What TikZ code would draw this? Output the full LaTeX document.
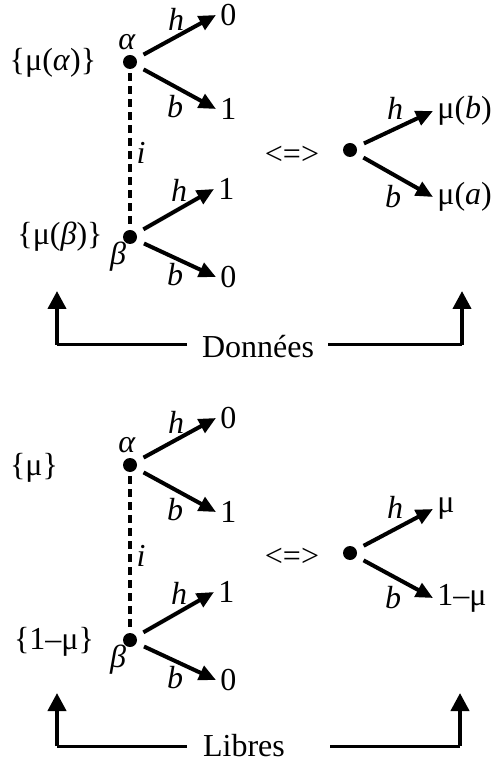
\documentclass[tikz,border=0pt]{standalone}
\usepackage{fontspec}
\setmainfont{Liberation Serif}
\usetikzlibrary{arrows.meta}
\tikzset{
  dot/.style={circle, fill, inner sep=0pt, minimum size=7pt},
  branch/.style={line width=2pt, shorten <=4pt, -{Triangle[length=8.5pt,width=7.5pt]}},
  tiplbl/.style={anchor=west, inner sep=2pt},
  lbl/.style={inner sep=1pt},
  dashline/.style={line width=2pt, dash pattern=on 4pt off 2.5pt, shorten <=2pt, shorten >=2pt},
  hline/.style={line width=1.5pt},
  uparr/.style={line width=2pt, -{Triangle[length=9pt,width=9pt]}},
}
\begin{document}
\begin{tikzpicture}[x=0.5pt, y=-0.5pt, every node/.style={font=\fontsize{16}{19}\selectfont}]
  \useasboundingbox (0,0) rectangle (500,763);
  % donnees
  \node[dot] (alphaA) at (130,62) {};
  \node[dot] (betaA) at (130,237) {};
  \node[lbl] (alphaAl) at (127,42) {\textit{α}};
  \node[lbl] (betaAl) at (118,257) {\textit{β}};
  \node[lbl] (probAa) at (53,63) {\{μ(\textit{α})\}};
  \node[lbl] (probAb) at (60,237) {\{μ(\textit{β})\}};
  \draw[dashline] (alphaA) -- (betaA);
  \node[lbl] (infA) at (141,153) {\textit{i}};
  \node[tiplbl] (ahA) at (216,15) {0};
  \node[tiplbl] (abA) at (216,109) {1};
  \node[tiplbl] (bhA) at (214,189) {1};
  \node[tiplbl] (bbA) at (216,277) {0};
  \draw[branch] (alphaA) -- (ahA.west);
  \draw[branch] (alphaA) -- (abA.west);
  \draw[branch] (betaA) -- (bhA.west);
  \draw[branch] (betaA) -- (bbA.west);
  \node[lbl] (ahAl) at (176,19) {\textit{h}};
  \node[lbl] (abAl) at (175,107) {\textit{b}};
  \node[lbl] (bhAl) at (179,190) {\textit{h}};
  \node[lbl] (bbAl) at (175,275) {\textit{b}};
  \node[lbl] (equivA) at (292,155) {<=>};
  \node[dot] (eqA) at (350,150) {};
  \node[tiplbl] (ehA) at (433,111) {μ(\textit{b})};
  \node[tiplbl] (ebA) at (433,197) {μ(\textit{a})};
  \draw[branch] (eqA) -- (ehA.west);
  \draw[branch] (eqA) -- (ebA.west);
  \node[lbl] (ehAl) at (395,108) {\textit{h}};
  \node[lbl] (ebAl) at (393,197) {\textit{b}};
  \node[lbl] (givenA) at (258,347) {Données};
  \coordinate (glA) at (187,345);
  \coordinate (gcA) at (57,345);
  \coordinate (gtA) at (57,291);
  \coordinate (grA) at (328,345);
  \coordinate (gdA) at (462,345);
  \coordinate (guA) at (462,291);
  \draw[hline] (glA) -- (gcA);
  \draw[uparr] (gcA) -- (gtA);
  \draw[hline] (grA) -- (gdA);
  \draw[uparr] (gdA) -- (guA);
  % libres
  \begin{scope}[shift={(0,403)}]
    \node[dot] (alphaB) at (130,62) {};
    \node[dot] (betaB) at (130,237) {};
    \node[lbl] (alphaBl) at (127,42) {\textit{α}};
    \node[lbl] (betaBl) at (118,257) {\textit{β}};
    \node[lbl] (probBa) at (34,65) {\{μ\}};
    \node[lbl] (probBb) at (54,239) {\{1–μ\}};
    \draw[dashline] (alphaB) -- (betaB);
    \node[lbl] (infB) at (141,153) {\textit{i}};
    \node[tiplbl] (ahB) at (216,15) {0};
    \node[tiplbl] (abB) at (216,109) {1};
    \node[tiplbl] (bhB) at (214,189) {1};
    \node[tiplbl] (bbB) at (216,277) {0};
    \draw[branch] (alphaB) -- (ahB.west);
    \draw[branch] (alphaB) -- (abB.west);
    \draw[branch] (betaB) -- (bhB.west);
    \draw[branch] (betaB) -- (bbB.west);
    \node[lbl] (ahBl) at (176,19) {\textit{h}};
    \node[lbl] (abBl) at (175,107) {\textit{b}};
    \node[lbl] (bhBl) at (179,190) {\textit{h}};
    \node[lbl] (bbBl) at (175,275) {\textit{b}};
    \node[lbl] (equivB) at (292,154) {<=>};
    \node[dot] (eqB) at (350,150) {};
    \node[tiplbl] (ehB) at (433,106) {μ};
    \node[tiplbl] (ebB) at (433,195) {1–μ};
    \draw[branch] (eqB) -- (ehB.west);
    \draw[branch] (eqB) -- (ebB.west);
    \node[lbl] (ehBl) at (395,104) {\textit{h}};
    \node[lbl] (ebBl) at (393,195) {\textit{b}};
    \node[lbl] (freeB) at (244,343) {Libres};
    \coordinate (glB) at (187,343);
    \coordinate (gcB) at (57,343);
    \coordinate (gtB) at (57,290);
    \coordinate (grB) at (330,343);
    \coordinate (gdB) at (460,343);
    \coordinate (guB) at (460,290);
    \draw[hline] (glB) -- (gcB);
    \draw[uparr] (gcB) -- (gtB);
    \draw[hline] (grB) -- (gdB);
    \draw[uparr] (gdB) -- (guB);
  \end{scope}
\end{tikzpicture}
\end{document}
